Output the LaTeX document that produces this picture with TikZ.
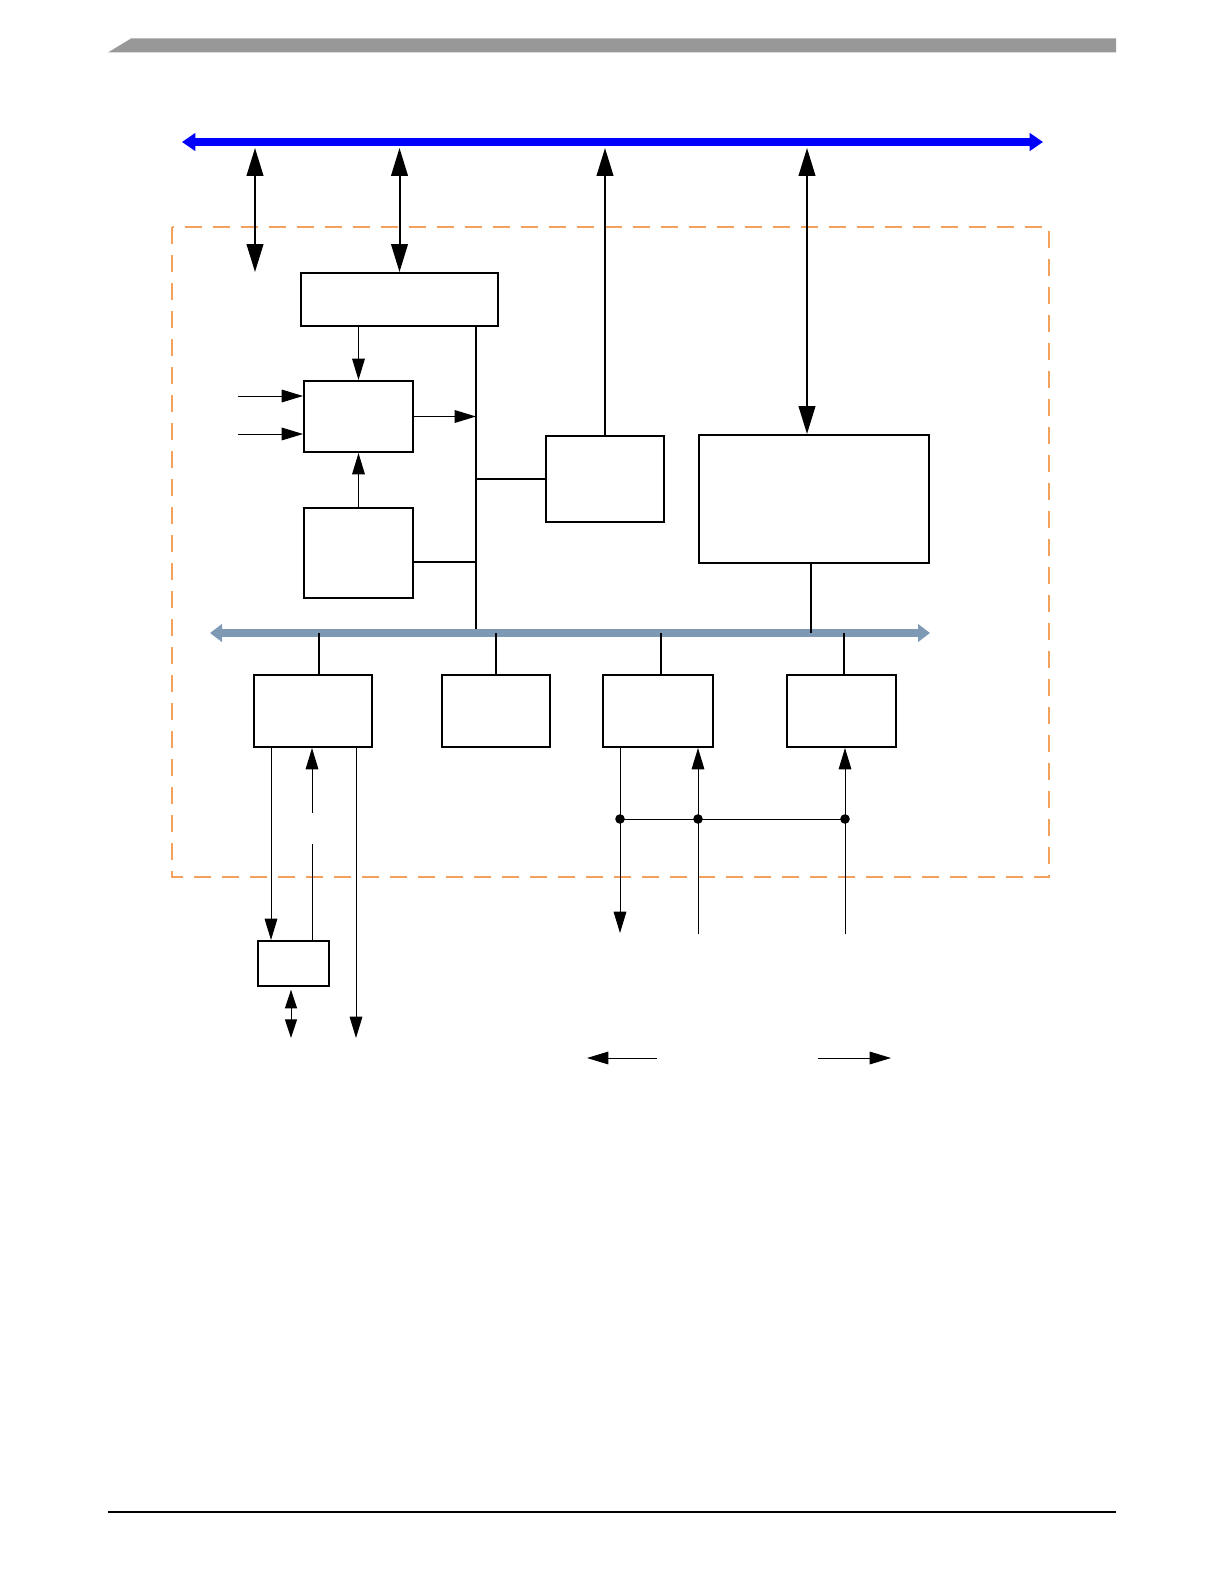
\documentclass[tikz,border=0pt]{standalone}
\usepackage{tikz}
\usetikzlibrary{arrows.meta,positioning,calc}
\definecolor{busblue}{RGB}{0,0,255}
\definecolor{busgray}{RGB}{125,153,180}
\definecolor{edgeorange}{RGB}{242,162,92}
\definecolor{headgray}{RGB}{152,152,152}

\tikzset{
  blk/.style 2 args={draw, line width=1.5pt, fill=white, inner sep=0pt,
    minimum width=#1*0.75pt, minimum height=#2*0.75pt},
  link/.style={line width=1.5pt},
  wire/.style={line width=0.75pt},
  sig/.style={wire, -{Triangle[length=16pt,width=9.5pt]}},
  sigboth/.style={wire, {Triangle[length=14pt,width=9pt]}-{Triangle[length=14pt,width=9pt]}},
  bigarr/.style={link, -{Triangle[length=21pt,width=12.5pt]}},
  bigboth/.style={link, {Triangle[length=21pt,width=12.5pt]}-{Triangle[length=21pt,width=12.5pt]}},
  sysbus/.style={busblue, line width=6pt, {Triangle[length=10pt,width=13pt]}-{Triangle[length=10pt,width=13pt]}},
  perbus/.style={busgray, line width=6pt, {Triangle[length=9pt,width=13pt]}-{Triangle[length=9pt,width=13pt]}},
  modedge/.style={edgeorange, line width=1.5pt, dash pattern=on 12.75pt off 8.25pt},
}

\begin{document}
\begin{tikzpicture}[x=0.75pt, y=-0.75pt]
  \useasboundingbox (0,0) rectangle (1224,1584);

  % page header and footer rule
  \fill[headgray] (108,52.5) -- (131,38.5) -- (1116,38.5) -- (1116,52.5) -- cycle;
  \draw[line width=0.9pt] (108,1512) -- (1116,1512);

  % module boundary
  \draw[modedge] (172,227) rectangle (1049,877);

  % blocks
  \node[blk={197}{53}]  (ctl)  at (399.5,299.5) {};
  \node[blk={109}{71}]  (core) at (358.5,416.5) {};
  \node[blk={109}{90}]  (clk)  at (358.5,553)   {};
  \node[blk={118}{86}]  (dma)  at (605,479)     {};
  \node[blk={230}{128}] (mem)  at (814,499)     {};
  \node[blk={118}{72}]  (pa)   at (313,711)     {};
  \node[blk={108}{72}]  (pb)   at (496,711)     {};
  \node[blk={110}{72}]  (pc)   at (658,711)     {};
  \node[blk={109}{72}]  (pd)   at (841.5,711)   {};
  \node[blk={71}{45}]   (pin)  at (293.5,963.5) {};

  % bus ends and taps
  \coordinate (sysL) at (182,142);
  \coordinate (sysR) at (1043,142);
  \coordinate (perL) at (210,633);
  \coordinate (perR) at (930,633);
  \coordinate (t1) at (255,148);
  \coordinate (t1e) at (255,272);
  \coordinate (t4) at (807,148);
  \coordinate (spT) at (476,326);
  \coordinate (spB) at (476,633);
  \coordinate (cj) at (476,562);
  \coordinate (sD) at (811,633);
  \coordinate (sE) at (319,633);
  \coordinate (sF) at (496,633);
  \coordinate (sG) at (661,633);
  \coordinate (sH) at (844,633);

  % system bus
  \draw[sysbus] (sysL) -- (sysR);
  \draw[bigboth] (t1) -- (t1e);
  \draw[bigboth] (ctl.north |- t1) -- (ctl.north);
  \draw[bigarr] (dma.north) -- (dma.north |- t1);
  \draw[bigboth] (t4) -- (t4 |- mem.north);

  % internal spine
  \draw[link] (spT) -- (spB);
  \draw[link] (cj -| clk.east) -- (cj);
  \draw[link] (dma.west -| spT) -- (dma.west);
  \draw[sig] (core.east) -- (core.east -| spT);
  \draw[sig] (ctl.south -| core.north) -- (core.north);
  \draw[sig] (clk.north) -- (core.south);

  % inputs
  \coordinate (in1) at (238,396);
  \coordinate (in2) at (238,434);
  \draw[sig] (in1) -- (in1 -| core.west);
  \draw[sig] (in2) -- (in2 -| core.west);

  % peripheral bus
  \draw[perbus] (perL) -- (perR);
  \draw[link] (sD) -- (sD |- mem.south);
  \draw[link] (sE) -- (sE |- pa.north);
  \draw[link] (sF) -- (pb.north);
  \draw[link] (sG) -- (sG |- pc.north);
  \draw[link] (sH) -- (sH |- pd.north);

  % pins below the first block
  \coordinate (r1) at (271,0);
  \coordinate (r2) at (312,0);
  \coordinate (gapT) at (312,813);
  \coordinate (gapB) at (312,844);
  \coordinate (o3) at (356,1038);
  \coordinate (o4) at (291,1038);
  \draw[sig] (pa.south -| r1) -- (pin.north -| r1);
  \draw[wire] (pin.north -| r2) -- (gapB);
  \draw[sig] (gapT) -- (pa.south -| r2);
  \draw[sig] (pa.south -| o3) -- (o3);
  \draw[sigboth] ([yshift=-2pt]pin.south -| o4) -- (o4);

  % shared lines below the last two blocks
  \coordinate (j1) at (620,819);
  \coordinate (j2) at (698,819);
  \coordinate (j3) at (845,819);
  \coordinate (o5) at (620,933);
  \coordinate (i6) at (698,934);
  \coordinate (i7) at (845,934);
  \draw[sig] (pc.south -| j1) -- (o5);
  \draw[sig] (i6) -- (pc.south -| j2);
  \draw[sig] (i7) -- (pd.south -| j3);
  \draw[wire] (j1) -- (j3);
  \foreach \j in {j1,j2,j3}
    \fill (\j) circle[radius=3.6pt];

  % direction marks
  \coordinate (la) at (657,1058);
  \coordinate (lb) at (587,1058);
  \coordinate (ra) at (818,1058);
  \coordinate (rb) at (891,1058);
  \draw[sig] (la) -- (lb);
  \draw[sig] (ra) -- (rb);
\end{tikzpicture}
\end{document}
